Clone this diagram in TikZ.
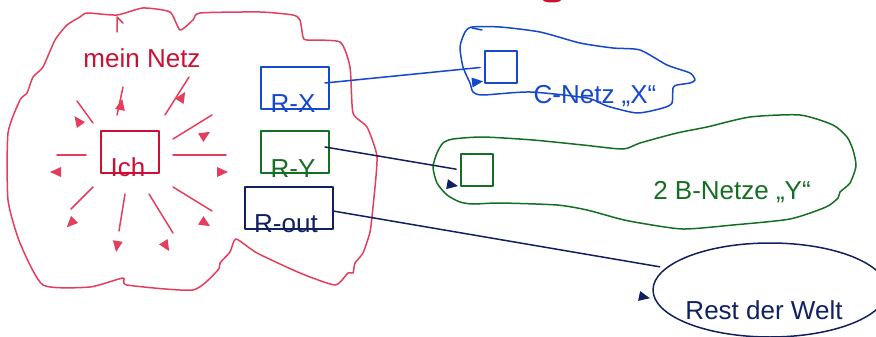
\documentclass[tikz,border=0pt]{standalone}
\usepackage{fontspec}
\setmainfont{Liberation Sans}
\usetikzlibrary{shapes.geometric}
\definecolor{netzrot}{RGB}{228,62,92}
\definecolor{ichrot}{RGB}{204,16,52}
\definecolor{xblau}{RGB}{22,72,205}
\definecolor{ygruen}{RGB}{22,110,36}
\definecolor{weltblau}{RGB}{16,32,96}
% filled arrow head: colour, centre, angle
\newcommand{\spitze}[3]{\fill [#1, shift={(#2)}, rotate=#3] (6,0) -- (-5,5) -- (-5,-5) -- cycle;}

\begin{document}
\begin{tikzpicture}[x=1pt, y=-1pt, line join=round, line cap=round,
        kasten/.style={draw, line width=2pt, inner sep=0pt, outer sep=0pt},
        txt/.style={inner sep=0pt, anchor=base, font=\fontsize{26}{31}\selectfont}]
        \useasboundingbox (0,0) rectangle (876,337);
        % rest of the cut off title
        \fill [ichrot] (552,0) ellipse (9 and 2.5);
        % mein Netz
        \draw [netzrot, line width=1.5pt] plot [smooth cycle, tension=0.35] coordinates {
            (87,13) (117,15) (143,8) (170,12) (180,30) (193,20) (200,13) (260,12)
            (293,15) (300,20) (303,37) (307,40) (340,42) (350,67) (353,113) (367,127)
            (377,157) (373,207) (370,232) (363,253) (355,263) (353,273) (348,273)
            (335,285) (300,273) (257,253) (236,239) (230,252) (220,263) (218,270)
            (193,290) (127,285) (123,278) (90,287) (43,285) (20,243) (8,200) (8,133)
            (20,100) (27,93) (33,77) (43,67) (55,40) (67,25) (80,17)};
        \draw [netzrot, line width=1.5pt] (117,32) -- (117,17) -- (123,23);
        \node [txt, ichrot] (netz) at (142,67) {mein Netz};
        \node [kasten, ichrot, minimum width=58pt, minimum height=42pt] (ich) at (130,152) {};
        \node [txt, ichrot] (ichtext) at (128,176) {Ich};
        \foreach \xa/\ya/\xb/\yb/\xc/\yc/\w in {86/155/57/155/56/172/180,
            173/155/226/155/222/172/0, 93/123/77/101/78/121/126,
            117/115/123/87/121/105/78, 165/115/189/77/182/97/58,
            173/139/212/115/205/135/32, 173/187/212/211/205/223/-32,
            149/194/173/233/166/246/-58, 125/194/119/231/117/246/-99,
            93/187/71/209/71/223/-135}
        {
            \draw [netzrot, line width=1.5pt] (\xa,\ya) -- (\xb,\yb);
            \spitze{netzrot}{\xc,\yc}{\w}
        }
        % router
        \node [kasten, xblau, minimum width=68pt, minimum height=42pt] (rx) at (295,88) {};
        \node [txt, xblau] (rxtext) at (293,112) {R-X};
        \node [kasten, ygruen, minimum width=68pt, minimum height=42pt] (ry) at (295,152) {};
        \node [txt, ygruen] (rytext) at (293,177) {R-Y};
        \node [kasten, weltblau, minimum width=88pt, minimum height=42pt] (rout) at (289,208) {};
        \node [txt, weltblau] (routtext) at (286,232) {R-out};
        % C-Netz X
        \draw [xblau, line width=1.5pt] plot [smooth cycle, tension=0.4] coordinates {
            (472,27) (500,27) (540,32) (580,43) (613,48) (640,50) (667,65) (690,73)
            (695,80) (690,83) (677,85) (673,88) (672,103) (663,108) (637,113)
            (607,106) (587,98) (530,92) (483,95) (473,92) (470,83) (463,67)
            (460,47) (465,32)};
        \draw [xblau, line width=1.5pt] (472,28) -- (482,30);
        \node [kasten, xblau, minimum size=32pt] (cx) at (501,67) {};
        \node [txt, xblau] (cxtext) at (595,103) {C-Netz „X“};
        % B-Netze Y
        \draw [ygruen, line width=1.5pt] plot [smooth cycle, tension=0.4] coordinates {
            (443,143) (453,139) (483,137) (533,140) (583,145) (623,149) (640,143)
            (677,133) (707,127) (750,117) (800,115) (833,125) (847,137) (853,150)
            (856,166) (850,183) (840,192) (838,198) (826,207) (790,219) (733,225)
            (683,229) (640,223) (620,219) (587,210) (557,205) (500,203) (473,204)
            (460,202) (447,195) (437,183) (433,167) (437,153)};
        \node [kasten, ygruen, minimum size=32pt] (cy) at (477,170) {};
        \node [txt, ygruen] (cytext) at (732,199) {2 B-Netze „Y“};
        % Rest der Welt
        \node [ellipse, draw, weltblau, line width=1.5pt, inner sep=0pt,
            minimum width=234pt, minimum height=94pt] (welt) at (770,290) {};
        \node [txt, weltblau] (welttext) at (764,319) {Rest der Welt};
        % Verbindungen
        \draw [xblau, line width=1.5pt, shorten >=5pt] ([xshift=-4pt, yshift=5pt]rx.east) -- (cx.west);
        \spitze{xblau}{477,82}{6}
        \draw [weltblau, line width=1.5pt, shorten >=5pt] ([xshift=-4pt, yshift=5pt]ry.east) -- (cy.west);
        \spitze{weltblau}{452,185}{-10}
        \draw [weltblau, line width=1.5pt, shorten >=6pt] ([yshift=-3pt]rout.east) -- (welt.168);
        \spitze{weltblau}{644,297}{-12}
    \end{tikzpicture}
\end{document}
